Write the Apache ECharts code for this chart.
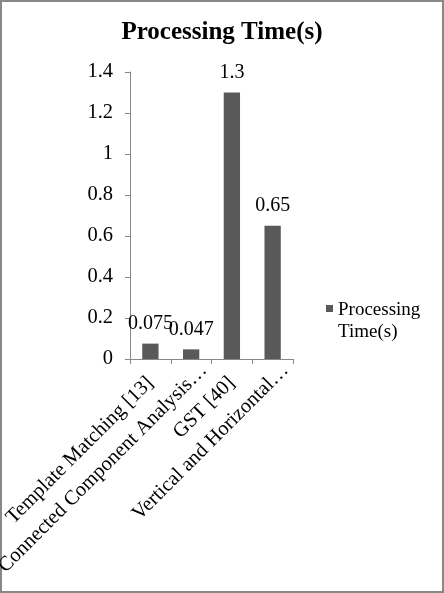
<!DOCTYPE html>
<html>
<head>
<meta charset="utf-8">
<script src="https://cdn.jsdelivr.net/npm/echarts@6/dist/echarts.min.js"></script>
<style>
html,body{margin:0;padding:0;background:#fff;}
#chart{width:444px;height:593px;}
</style>
</head>
<body>
<div id="chart"></div>
<script>
const categories = ["Template Matching [13]", "Connected Component Analysis\u2026", "GST [40]", "Vertical and Horizontal\u2026"];
const seriesName = "Processing Time(s)";
const values = [0.075, 0.047, 1.3, 0.65];
const valueLabels = ["0.075", "0.047", "1.3", "0.65"];
const yTicks = { min: 0, max: 1.4, interval: 0.2 };

const FONT = "'Liberation Serif', 'Times New Roman', serif";
const categoryData = categories.map(function (c) {
  const truncated = c.indexOf('\u2026') >= 0;
  return truncated ? { value: c, textStyle: { padding: [0, -18, 0, 0] } } : c;
});
const chart = echarts.init(document.getElementById('chart'), null, { renderer: 'canvas' });
chart.setOption({
  backgroundColor: '#ffffff',
  animation: false,
  title: {
    text: seriesName,
    left: 'center',
    top: 15,
    textStyle: { fontFamily: FONT, fontSize: 25, fontWeight: 'bold', color: '#000' }
  },
  legend: {
    left: 321,
    top: 294,
    orient: 'vertical',
    icon: 'path://M0,0L7,0L7,7L0,7Z M0,32L0.01,32L0,32Z',
    itemWidth: 7,
    itemHeight: 32,
    formatter: function () { return 'Processing\nTime(s)'; },
    textStyle: { fontFamily: FONT, fontSize: 19, color: '#000', lineHeight: 22 }
  },
  graphic: [{
    type: 'rect',
    shape: { x: 1, y: 1, width: 442, height: 591 },
    style: { fill: 'none', stroke: '#888', lineWidth: 2 },
    silent: true
  }],
  grid: { left: 130, right: 151, top: 72, bottom: 234, containLabel: false, outerBoundsMode: 'none' },
  xAxis: {
    type: 'category',
    data: categoryData,
    axisLine: { lineStyle: { color: '#888', width: 1 } },
    axisTick: { show: true, length: 5, lineStyle: { color: '#888' } },
    axisLabel: {
      rotate: 45,
      interval: 0,
      margin: 21,
      fontFamily: FONT,
      fontSize: 20.5,
      color: '#000'
    }
  },
  yAxis: {
    type: 'value',
    min: yTicks.min,
    max: yTicks.max,
    interval: yTicks.interval,
    axisLine: { show: true, lineStyle: { color: '#888', width: 1 } },
    axisTick: { show: true, length: 5, lineStyle: { color: '#888' } },
    splitLine: { show: false },
    axisLabel: { margin: 17, fontFamily: FONT, fontSize: 20.5, color: '#000' }
  },
  series: [{
    name: seriesName,
    type: 'bar',
    data: values,
    barWidth: '40%',
    itemStyle: { color: '#595959' },
    label: {
      show: true,
      position: 'top',
      distance: 10,
      fontFamily: FONT,
      fontSize: 20,
      color: '#000',
      formatter: function (p) { return valueLabels[p.dataIndex]; }
    }
  }]
});
</script>
</body>
</html>
